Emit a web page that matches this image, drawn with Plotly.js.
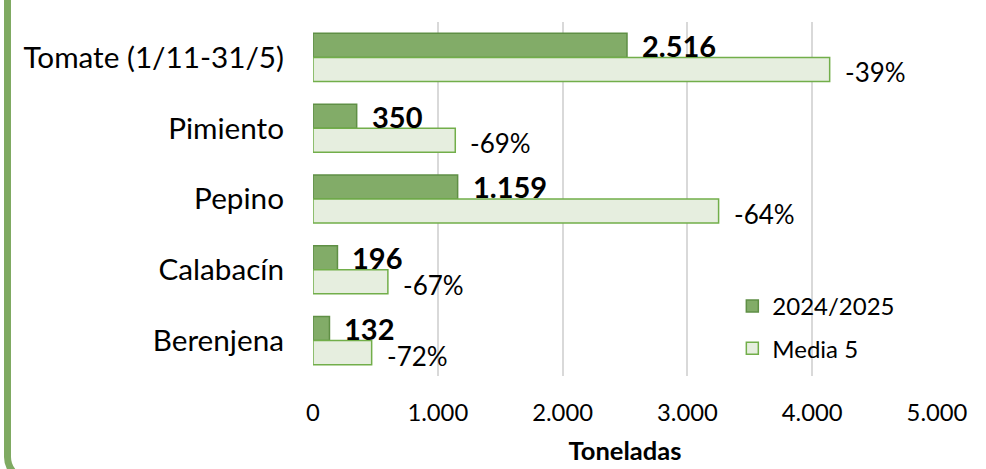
<!DOCTYPE html>
<html>
<head>
<meta charset="utf-8">
<script src="https://cdn.plot.ly/plotly-3.0.1.min.js"></script>
<style>
  html, body { margin: 0; padding: 0; background: #ffffff; }
  #wrap { position: relative; width: 986px; height: 469px; overflow: hidden; }
  #frame { position: absolute; left: 4px; top: -60px; width: 1100px; height: 543px;
           border: 7px solid #7faa62; border-radius: 26px; box-sizing: border-box; }
  #chart { position: absolute; left: 0; top: 0; width: 986px; height: 469px; }
</style>
</head>
<body>
<div id="wrap">
  <div id="frame"></div>
  <div id="chart"></div>
</div>
<script>
// ---- data ----
const categories = ["Tomate (1/11-31/5)", "Pimiento", "Pepino", "Calabacín", "Berenjena"];
const seriesNames = ["2024/2025", "Media 5"];
const current = [2516, 350, 1159, 196, 132];
const media5 = [4140, 1140, 3250, 600, 470];
const pctChange = ["-39%", "-69%", "-64%", "-67%", "-72%"];
const tickValues = [0, 1000, 2000, 3000, 4000, 5000];
const tickLabels = ["0", "1.000", "2.000", "3.000", "4.000", "5.000"];

const FONT = "Lato, 'Noto Sans', sans-serif";

function fmtThousands(v) {
  return String(v).replace(/\B(?=(\d{3})+(?!\d))/g, ".");
}

const traceCur = {
  type: "bar", orientation: "h", name: seriesNames[0],
  x: current, y: categories, legendgroup: "a",
  marker: { color: "#82ac68", line: { color: "#5f8f45", width: 1.5 } },
  hoverinfo: "skip"
};
const traceMed = {
  type: "bar", orientation: "h", name: seriesNames[1],
  x: media5, y: categories, legendgroup: "b",
  marker: { color: "#e6eedf", line: { color: "#72ae4a", width: 1.5 } },
  hoverinfo: "skip"
};

const annotations = [];
categories.forEach((c, i) => {
  annotations.push({
    x: current[i], y: i - 0.17, xref: "x", yref: "y",
    text: "<b>" + fmtThousands(current[i]) + "</b>",
    showarrow: false, xanchor: "left", yanchor: "middle", xshift: 13, yshift: 0,
    font: { family: FONT, size: 29, color: "#000000" }
  });
  annotations.push({
    x: media5[i], y: i + 0.17, xref: "x", yref: "y",
    text: pctChange[i],
    showarrow: false, xanchor: "left", yanchor: "middle", xshift: 13, yshift: -3,
    font: { family: FONT, size: 26, color: "#000000" }
  });
});

const layout = {
  width: 986, height: 469,
  margin: { l: 313, r: 49, t: 21.5, b: 92.5, pad: 0 },
  paper_bgcolor: "rgba(0,0,0,0)", plot_bgcolor: "rgba(0,0,0,0)",
  barmode: "group", bargap: 0.32, bargroupgap: 0,
  separators: ",.",
  font: { family: FONT, color: "#000000" },
  showlegend: true,
  legend: {
    x: 0.672, y: 0.26, xanchor: "left", yanchor: "top",
    bgcolor: "rgba(0,0,0,0)", borderwidth: 0,
    font: { family: FONT, size: 24, color: "#000000" },
    traceorder: "grouped", tracegroupgap: 8, itemwidth: 30
  },
  xaxis: {
    range: [0, 5000], tickvals: tickValues, ticktext: tickLabels,
    showgrid: true, gridcolor: "#d9d9d9", gridwidth: 2,
    zeroline: false, showline: false, ticks: "",
    ticklabelstandoff: 20,
    tickfont: { family: FONT, size: 23.8, color: "#000000" },
    title: { text: "<b>Toneladas</b>", font: { family: FONT, size: 25.5, color: "#000000" }, standoff: 17 },
    fixedrange: true
  },
  yaxis: {
    type: "category", autorange: "reversed",
    showgrid: false, zeroline: false, showline: false, ticks: "",
    ticklabelstandoff: 28,
    tickfont: { family: FONT, size: 29.7, color: "#000000" },
    fixedrange: true
  },
  annotations: annotations
};

Plotly.newPlot("chart", [traceCur, traceMed], layout, { displayModeBar: false, staticPlot: true });
</script>
</body>
</html>
